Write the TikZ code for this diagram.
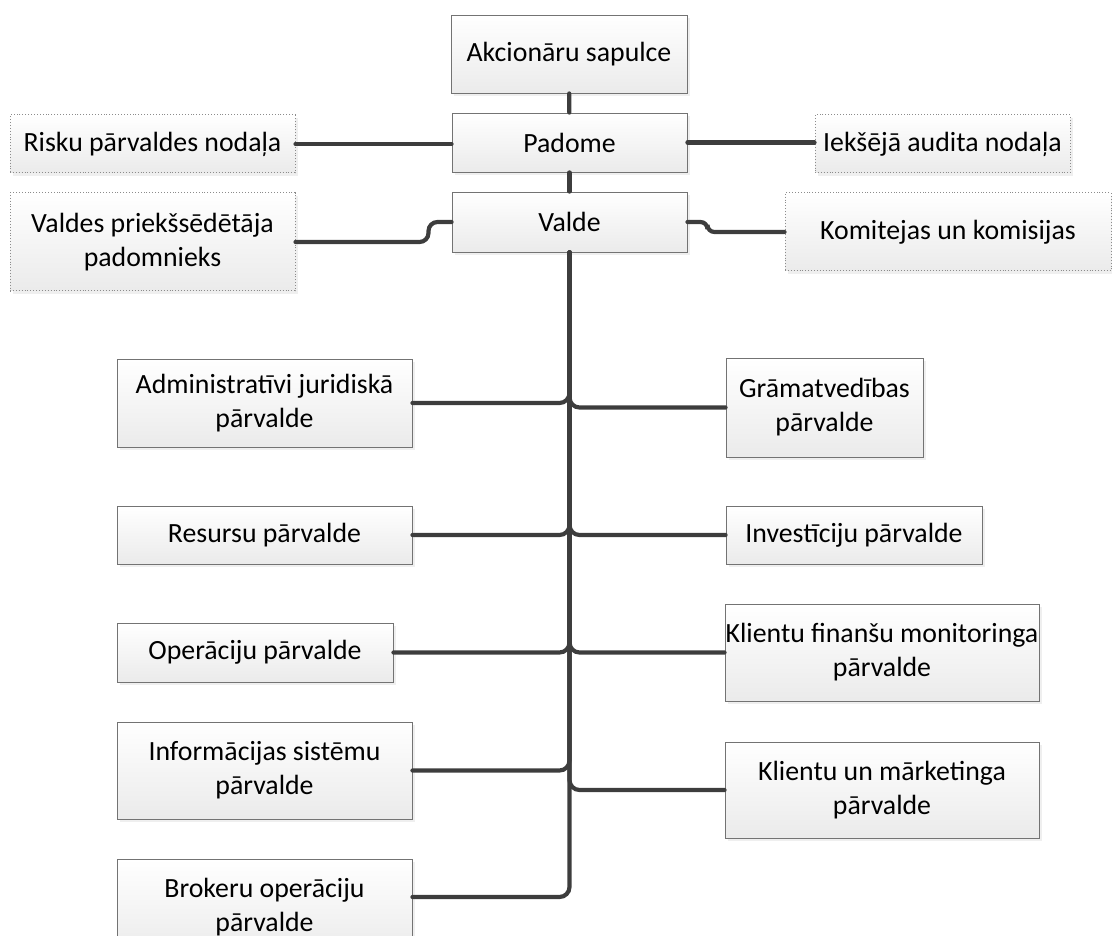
\documentclass[tikz,border=0pt]{standalone}
\usepackage{fontspec}
\setmainfont{Carlito}
\usetikzlibrary{shadows}
\tikzset{
  orgbox/.style={draw=black!55, line width=0.9pt, top color=white, bottom color=black!8,
    inner sep=0pt, align=center, font=\fontsize{27.8}{34}\selectfont,
    drop shadow={shadow xshift=3pt, shadow yshift=-3pt, fill=black!12}},
  dotbox/.style={orgbox, draw=black!45, dotted, line width=1pt},
  conn/.style={line width=4.2pt, draw=black!76, line cap=round, rounded corners=10pt},
}
\begin{document}
\begin{tikzpicture}[x=1pt,y=-1pt]
\useasboundingbox (0,0) rectangle (1112,936);
% top
\node[orgbox, minimum width=236pt, minimum height=78pt] (akc) at (569,54) {Akcionāru sapulce};
\node[orgbox, minimum width=235pt, minimum height=59pt] (pad) at (569.5,142.5) {Padome};
\node[orgbox, minimum width=235pt, minimum height=60pt] (val) at (569.5,222) {Valde};
% dotted side boxes
\node[dotbox, minimum width=285pt, minimum height=58pt] (risk) at (152.5,144) {Risku pārvaldes nodaļa};
\node[dotbox, minimum width=285pt, minimum height=98pt] (pdm) at (152.5,242) {Valdes priekšsēdētāja\\padomnieks};
\node[dotbox, minimum width=255pt, minimum height=58pt] (iek) at (942.5,144) {Iekšējā audita nodaļa};
\node[dotbox, minimum width=326pt, minimum height=78pt] (kom) at (948,232) {Komitejas un komisijas};
% left column
\node[orgbox, minimum width=295pt, minimum height=88pt] (adm) at (264.5,403) {Administratīvi juridiskā\\pārvalde};
\node[orgbox, minimum width=295pt, minimum height=58pt] (res) at (264.5,535) {Resursu pārvalde};
\node[orgbox, minimum width=276pt, minimum height=59pt] (ope) at (255,652.5) {Operāciju pārvalde};
\node[orgbox, minimum width=295pt, minimum height=97pt] (inf) at (264.5,770.5) {Informācijas sistēmu\\pārvalde};
\node[orgbox, minimum width=295pt, minimum height=97pt] (bro) at (264.5,907.5) {Brokeru operāciju\\pārvalde};
% right column
\node[orgbox, minimum width=197pt, minimum height=99pt] (gra) at (824.5,407.5) {Grāmatvedības\\pārvalde};
\node[orgbox, minimum width=256pt, minimum height=58pt] (inv) at (854,535) {Investīciju pārvalde};
\node[orgbox, minimum width=314pt, minimum height=97pt] (kfm) at (882,652.5) {Klientu finanšu monitoringa\\pārvalde};
\node[orgbox, minimum width=314pt, minimum height=96pt] (kum) at (882,790) {Klientu un mārketinga\\pārvalde};
% connectors
\draw[conn] (akc) -- (pad);
\draw[conn] (pad) -- (val);
\draw[conn] (risk.east) -- (risk.east -| pad.west);
\draw[conn] (pad.east) -- (pad.east -| iek.west);
\draw[conn, rounded corners=9pt] (pdm.east) -- ++(133,0) |- (val.west);
\draw[conn, rounded corners=7pt] (val.east) -- ++(20,0) |- (kom.west);
\draw[conn] (val.south) |- (adm.east);
\draw[conn] (val.south) |- (gra.west);
\draw[conn] (val.south) |- (res.east);
\draw[conn] (val.south) |- (inv.west);
\draw[conn] (val.south) |- (ope.east);
\draw[conn] (val.south) |- (kfm.west);
\draw[conn] (val.south) |- (inf.east);
\draw[conn] (val.south) |- (kum.west);
\draw[conn] (val.south) |- ([yshift=10.5pt]bro.east);
\end{tikzpicture}
\end{document}
